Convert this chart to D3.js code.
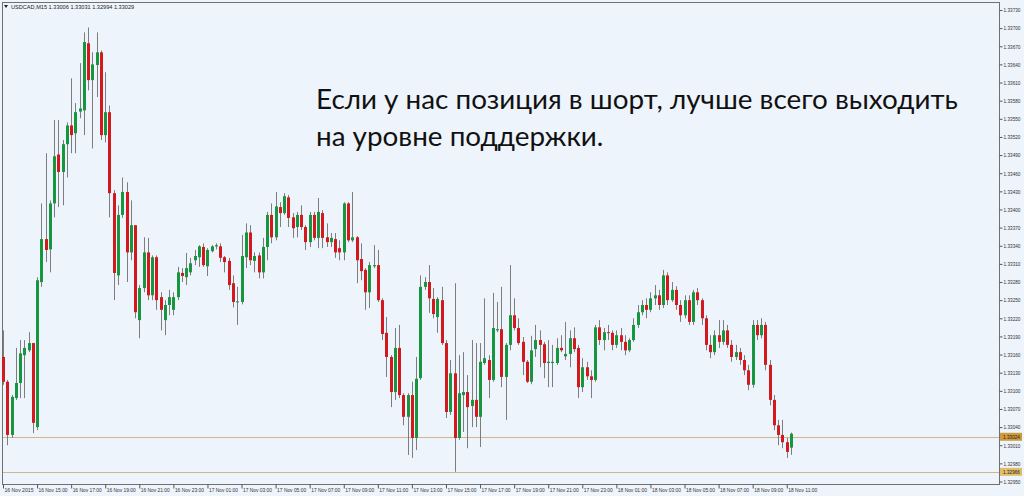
<!DOCTYPE html>
<html><head><meta charset="utf-8">
<script src="https://cdn.jsdelivr.net/npm/d3@7"></script>
<style>html,body{margin:0;padding:0;background:#fff;} svg{display:block}</style>
</head><body><svg id="c" width="1024" height="496"></svg>
<script>
const symbolTitle = "USDCAD,M15";
const titleValues = "1.33006 1.33031 1.32994 1.33029";
const timeLabels = ["16 Nov 2015","16 Nov 15:00","16 Nov 17:00","16 Nov 19:00","16 Nov 21:00","16 Nov 23:00",
"17 Nov 01:00","17 Nov 03:00","17 Nov 05:00","17 Nov 07:00","17 Nov 09:00","17 Nov 11:00","17 Nov 13:00",
"17 Nov 15:00","17 Nov 17:00","17 Nov 19:00","17 Nov 21:00","17 Nov 23:00","18 Nov 01:00","18 Nov 03:00",
"18 Nov 05:00","18 Nov 07:00","18 Nov 09:00","18 Nov 11:00"];
const open = [
1.33156,1.33115,1.33027,1.33088,1.33113,1.33159,1.33167,1.33179,1.33040,1.33280,
1.33351,1.33334,1.33410,1.33491,1.33462,1.33508,1.33539,1.33526,1.33562,1.33564,
1.33675,1.33614,1.33639,1.33660,1.33523,1.33561,1.33427,1.33291,1.33391,1.33429,
1.33329,1.33374,1.33217,1.33270,1.33329,1.33258,1.33321,1.33255,1.33217,1.33242,
1.33234,1.33255,1.33295,1.33288,1.33296,1.33316,1.33321,1.33338,1.33306,1.33331,
1.33339,1.33339,1.33321,1.33315,1.33278,1.33247,1.33247,1.33321,1.33362,1.33315,
1.33324,1.33296,1.33338,1.33391,1.33354,1.33404,1.33394,1.33420,1.33387,1.33371,
1.33391,1.33371,1.33346,1.33391,1.33353,1.33394,1.33354,1.33346,1.33351,1.33336,
1.33329,1.33410,1.33349,1.33354,1.33318,1.33300,1.33263,1.33306,1.33308,1.33250,
1.33196,1.33156,1.33098,1.33171,1.33093,1.33057,1.33093,1.33022,1.33121,1.33272,
1.33280,1.33252,1.33222,1.33250,1.33179,1.33065,1.33129,1.33022,1.33093,1.33098,
1.33075,1.33085,1.33057,1.33146,1.33151,1.33118,1.33200,1.33202,1.33123,1.33176,
1.33225,1.33204,1.33181,1.33148,1.33115,1.33169,1.33184,1.33177,1.33146,1.33146,
1.33146,1.33171,1.33157,1.33161,1.33187,1.33171,1.33106,1.33139,1.33124,1.33118,
1.33205,1.33184,1.33197,1.33196,1.33176,1.33192,1.33181,1.33167,1.33184,1.33209,
1.33230,1.33242,1.33234,1.33253,1.33258,1.33242,1.33291,1.33250,1.33267,1.33242,
1.33225,1.33250,1.33214,1.33263,1.33250,1.33220,1.33176,1.33164,1.33192,1.33181,
1.33200,1.33176,1.33156,1.33164,1.33151,1.33134,1.33110,1.33209,1.33192,1.33209,
1.33143,1.33085,1.33043,1.33027,1.33015,1.33006];
const high = [
1.33200,1.33118,1.33093,1.33171,1.33184,1.33184,1.33197,1.33179,1.33288,1.33410,
1.33493,1.33415,1.33548,1.33548,1.33515,1.33544,1.33617,1.33576,1.33642,1.33693,
1.33701,1.33660,1.33693,1.33663,1.33627,1.33572,1.33432,1.33407,1.33453,1.33445,
1.33415,1.33374,1.33275,1.33354,1.33353,1.33324,1.33324,1.33263,1.33250,1.33267,
1.33263,1.33305,1.33303,1.33328,1.33320,1.33333,1.33341,1.33344,1.33336,1.33341,
1.33344,1.33344,1.33323,1.33320,1.33291,1.33272,1.33358,1.33377,1.33374,1.33329,
1.33329,1.33353,1.33396,1.33410,1.33429,1.33412,1.33427,1.33424,1.33394,1.33396,
1.33407,1.33374,1.33396,1.33396,1.33419,1.33399,1.33377,1.33361,1.33361,1.33349,
1.33412,1.33412,1.33429,1.33356,1.33344,1.33303,1.33313,1.33341,1.33333,1.33253,
1.33222,1.33159,1.33204,1.33209,1.33096,1.33096,1.33115,1.33156,1.33291,1.33288,
1.33308,1.33270,1.33255,1.33272,1.33184,1.33151,1.33278,1.33159,1.33164,1.33126,
1.33184,1.33179,1.33179,1.33253,1.33159,1.33262,1.33247,1.33272,1.33179,1.33308,
1.33253,1.33220,1.33189,1.33151,1.33191,1.33209,1.33200,1.33181,1.33184,1.33176,
1.33187,1.33192,1.33214,1.33200,1.33205,1.33176,1.33154,1.33148,1.33134,1.33209,
1.33217,1.33204,1.33209,1.33200,1.33200,1.33204,1.33192,1.33187,1.33220,1.33242,
1.33250,1.33253,1.33263,1.33275,1.33267,1.33300,1.33296,1.33280,1.33273,1.33250,
1.33258,1.33258,1.33267,1.33270,1.33253,1.33225,1.33192,1.33200,1.33217,1.33217,
1.33209,1.33184,1.33176,1.33171,1.33159,1.33143,1.33217,1.33217,1.33220,1.33214,
1.33151,1.33093,1.33052,1.33052,1.33022,1.33031];
const low = [
1.33110,1.33010,1.33022,1.33085,1.33088,1.33088,1.33164,1.33030,1.33035,1.33272,
1.33313,1.33296,1.33387,1.33404,1.33407,1.33453,1.33493,1.33493,1.33551,1.33523,
1.33597,1.33501,1.33586,1.33515,1.33511,1.33387,1.33250,1.33275,1.33386,1.33280,
1.33316,1.33220,1.33187,1.33263,1.33250,1.33250,1.33234,1.33200,1.33192,1.33225,
1.33225,1.33250,1.33280,1.33275,1.33291,1.33308,1.33305,1.33305,1.33290,1.33329,
1.33334,1.33313,1.33296,1.33267,1.33238,1.33209,1.33243,1.33303,1.33308,1.33296,
1.33286,1.33286,1.33316,1.33344,1.33349,1.33371,1.33391,1.33371,1.33353,1.33354,
1.33366,1.33333,1.33338,1.33349,1.33336,1.33336,1.33338,1.33338,1.33320,1.33316,
1.33316,1.33346,1.33346,1.33278,1.33283,1.33234,1.33237,1.33303,1.33247,1.33184,
1.33123,1.33073,1.33085,1.33088,1.33043,1.32994,1.32989,1.33002,1.33118,1.33267,
1.33229,1.33220,1.33196,1.33176,1.33055,1.33060,1.32966,1.33019,1.33032,1.33005,
1.33040,1.33040,1.33007,1.33143,1.33088,1.33115,1.33197,1.33106,1.33052,1.33167,
1.33200,1.33176,1.33126,1.33113,1.33111,1.33156,1.33139,1.33121,1.33106,1.33106,
1.33143,1.33164,1.33151,1.33139,1.33164,1.33088,1.33098,1.33118,1.33088,1.33115,
1.33176,1.33167,1.33184,1.33167,1.33171,1.33167,1.33159,1.33164,1.33181,1.33204,
1.33225,1.33220,1.33230,1.33242,1.33234,1.33237,1.33242,1.33247,1.33234,1.33214,
1.33220,1.33209,1.33209,1.33242,1.33209,1.33167,1.33154,1.33159,1.33171,1.33176,
1.33171,1.33148,1.33151,1.33143,1.33126,1.33101,1.33105,1.33184,1.33187,1.33134,
1.33076,1.33035,1.33010,1.33005,1.32989,1.32994];
const close = [
1.33115,1.33027,1.33090,1.33113,1.33162,1.33171,1.33179,1.33047,1.33283,1.33351,
1.33333,1.33410,1.33488,1.33462,1.33508,1.33539,1.33523,1.33561,1.33567,1.33677,
1.33614,1.33640,1.33660,1.33523,1.33561,1.33427,1.33295,1.33391,1.33429,1.33329,
1.33374,1.33230,1.33270,1.33329,1.33258,1.33321,1.33250,1.33234,1.33242,1.33255,
1.33255,1.33296,1.33290,1.33303,1.33311,1.33323,1.33339,1.33308,1.33333,1.33339,
1.33341,1.33320,1.33313,1.33275,1.33247,1.33248,1.33323,1.33362,1.33316,1.33323,
1.33296,1.33338,1.33391,1.33354,1.33405,1.33394,1.33422,1.33386,1.33369,1.33391,
1.33371,1.33346,1.33391,1.33353,1.33396,1.33353,1.33346,1.33353,1.33329,1.33329,
1.33410,1.33349,1.33354,1.33316,1.33298,1.33263,1.33308,1.33308,1.33250,1.33194,
1.33156,1.33098,1.33171,1.33093,1.33057,1.33093,1.33022,1.33120,1.33272,1.33280,
1.33253,1.33227,1.33252,1.33179,1.33065,1.33129,1.33022,1.33096,1.33098,1.33073,
1.33085,1.33057,1.33148,1.33154,1.33118,1.33204,1.33202,1.33123,1.33176,1.33225,
1.33204,1.33179,1.33148,1.33115,1.33167,1.33184,1.33176,1.33146,1.33148,1.33148,
1.33171,1.33167,1.33161,1.33187,1.33169,1.33106,1.33139,1.33124,1.33118,1.33205,
1.33184,1.33197,1.33196,1.33176,1.33192,1.33181,1.33167,1.33184,1.33209,1.33230,
1.33242,1.33234,1.33253,1.33258,1.33242,1.33291,1.33250,1.33267,1.33242,1.33225,
1.33250,1.33214,1.33263,1.33250,1.33220,1.33176,1.33164,1.33192,1.33181,1.33200,
1.33176,1.33156,1.33164,1.33151,1.33134,1.33110,1.33209,1.33192,1.33209,1.33143,
1.33085,1.33043,1.33027,1.33015,1.32999,1.33029];
const priceTicks = [1.33730,1.33700,1.33670,1.33640,1.33610,1.33580,1.33550,1.33520,1.33490,1.33460,
1.33430,1.33400,1.33370,1.33340,1.33310,1.33280,1.33250,1.33220,1.33190,1.33160,1.33130,1.33100,
1.33070,1.33040,1.33010,1.32980,1.32950];
const levelLines = [1.33024, 1.32966];
const annotation = ["Если у нас позиция в шорт, лучше всего выходить", "на уровне поддержки."];

const W = 1024, H = 496;
const svg = d3.select('#c');
svg.append('rect').attr('width', W).attr('height', H).attr('fill', '#eef4fb');

const n = open.length;
const x = d3.scaleLinear().domain([0, n - 1]).range([3, 791]);
const y = d3.scaleLinear().domain([1.32950, 1.33730]).range([481.5, 10]);
const px = i => Math.round(x(i)) + 0.5;
const fmt = d3.format('.5f');

// frame
svg.append('rect').attr('x', 2.5).attr('y', 2.5).attr('width', 997).attr('height', 482)
  .attr('fill', 'none').attr('stroke', '#707070').attr('stroke-width', 1);

// level lines
svg.selectAll('line.lvl').data(levelLines).join('line').attr('class', 'lvl')
  .attr('x1', 3).attr('x2', 999).attr('y1', d => Math.round(y(d)) + 0.5).attr('y2', d => Math.round(y(d)) + 0.5)
  .attr('stroke', '#d6b38a').attr('stroke-width', 1);

// candles
const idx = d3.range(n);
const g = svg.append('g');
g.selectAll('line.wick').data(idx).join('line').attr('class', 'wick')
  .attr('x1', px).attr('x2', px).attr('y1', i => y(high[i])).attr('y2', i => y(low[i]))
  .attr('stroke', '#7d7d7d').attr('stroke-width', 1);
g.selectAll('rect.body').data(idx).join('rect').attr('class', 'body')
  .attr('x', i => px(i) - 1.5).attr('width', 3)
  .attr('y', i => Math.min(y(open[i]), y(close[i])))
  .attr('height', i => Math.max(1, Math.abs(y(open[i]) - y(close[i]))))
  .attr('fill', i => close[i] > open[i] ? '#17963f' : (close[i] < open[i] ? '#d3191e' : '#444'));

// right axis
const ra = svg.append('g').attr('transform', 'translate(999.5,0)');
ra.call(d3.axisRight(y).tickValues(priceTicks).tickFormat(fmt).tickSize(3).tickPadding(1));
ra.select('.domain').remove();
ra.selectAll('line').attr('stroke', '#555');
ra.selectAll('text').attr('font-family', 'Liberation Sans, sans-serif').attr('font-size', 5.6).attr('fill', '#333')
  .attr('textLength', 17).attr('lengthAdjust', 'spacingAndGlyphs');

// level labels (highlighted)
const lvlColors = ['#cf9a3c', '#e2bd6c'];
levelLines.forEach((v, k) => {
  const yy = y(v);
  svg.append('rect').attr('x', 1000).attr('y', yy - 4).attr('width', 22).attr('height', 8).attr('fill', lvlColors[k]);
  svg.append('text').attr('x', 1003).attr('y', yy + 2).attr('font-family', 'Liberation Sans, sans-serif')
    .attr('font-size', 5.6).attr('fill', '#222').attr('textLength', 17).attr('lengthAdjust', 'spacingAndGlyphs')
    .text(fmt(v));
});

// bottom axis
const tickIdx = timeLabels.map((d, k) => k * 8);
const ba = svg.append('g').attr('transform', 'translate(0,484.5)');
ba.call(d3.axisBottom(x).tickValues(tickIdx).tickFormat(i => timeLabels[i / 8]).tickSize(-4).tickPadding(0));
ba.select('.domain').remove();
ba.selectAll('.tick line').attr('stroke', '#555').attr('y2', 4);
ba.selectAll('.tick text').attr('text-anchor', 'start').attr('dy', 0).attr('dx', 1).attr('y', 7)
  .attr('font-family', 'Liberation Sans, sans-serif').attr('font-size', 5.4).attr('fill', '#333')
  .attr('textLength', 29).attr('lengthAdjust', 'spacingAndGlyphs');

// title
svg.append('path').attr('d', 'M4,5 L8,5 L6,8 Z').attr('fill', '#222');
svg.append('text').attr('x', 11).attr('y', 9).attr('font-family', 'Liberation Sans, sans-serif')
  .attr('font-size', 5.6).attr('fill', '#222').text(symbolTitle + "  " + titleValues);

// annotation
const ann = svg.append('g');
const t1 = ann.append('text').attr('x', 316).attr('y', 109).attr('font-family', 'Lato, sans-serif')
  .attr('font-size', 30).attr('fill', '#111').text(annotation[0]);
const w1 = t1.node().getComputedTextLength();
const fs = 30 * 642 / w1;
t1.attr('font-size', fs);
ann.append('text').attr('x', 316).attr('y', 146).attr('font-family', 'Lato, sans-serif')
  .attr('font-size', fs).attr('fill', '#111').text(annotation[1]);
</script></body></html>
